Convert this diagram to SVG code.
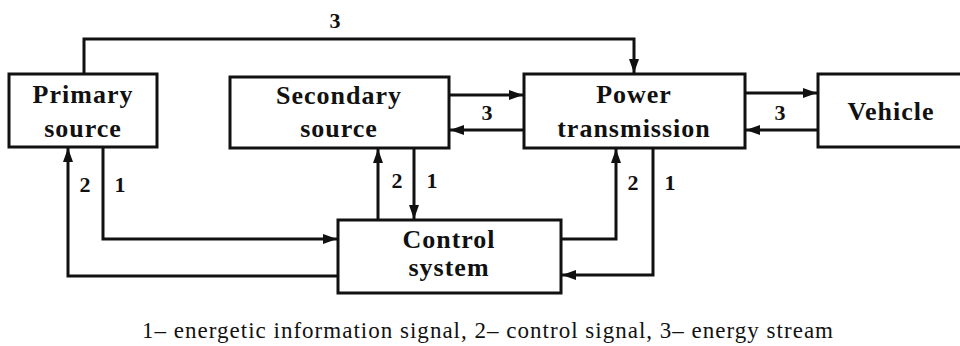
<svg xmlns="http://www.w3.org/2000/svg" width="960" height="346" viewBox="0 0 960 346">
<style>
.box{fill:#fff;stroke:#111;stroke-width:3}
.lbl{font-family:'Liberation Serif','DejaVu Serif',Times,serif;font-size:26px;font-weight:bold;fill:#111;text-anchor:middle;letter-spacing:1px}
.num{font-family:'Liberation Serif','DejaVu Serif',Times,serif;font-size:22px;font-weight:bold;fill:#111;text-anchor:middle}
.cap{font-family:'Liberation Serif','DejaVu Serif',Times,serif;font-size:23px;fill:#111}
.con{fill:none;stroke:#111;stroke-width:3}
</style>
<defs>
<marker id="ah" markerUnits="userSpaceOnUse" markerWidth="16" markerHeight="12" refX="14" refY="5" orient="auto">
<path d="M0,0 L14,5 L0,10 z" fill="#111"/>
</marker>
</defs>
<rect width="960" height="346" fill="#fff"/>
<g id="connectors">
<path class="con" d="M84,74 V39 H634 V73" marker-end="url(#ah)"/>
<path class="con" d="M449,95 H523" marker-end="url(#ah)"/>
<path class="con" d="M524,130 H450" marker-end="url(#ah)"/>
<path class="con" d="M745,93 H817" marker-end="url(#ah)"/>
<path class="con" d="M818,130 H746" marker-end="url(#ah)"/>
<path class="con" d="M338,276 H68 V148" marker-end="url(#ah)"/>
<path class="con" d="M103,147 V239 H337" marker-end="url(#ah)"/>
<path class="con" d="M378,220 V149" marker-end="url(#ah)"/>
<path class="con" d="M414,148 V219" marker-end="url(#ah)"/>
<path class="con" d="M561,239 H616 V149" marker-end="url(#ah)"/>
<path class="con" d="M653,148 V275 H562" marker-end="url(#ah)"/>
<text class="num" x="335" y="28">3</text>
<text class="num" x="487" y="120">3</text>
<text class="num" x="780" y="120">3</text>
<text class="num" x="85" y="192">2</text>
<text class="num" x="120" y="192">1</text>
<text class="num" x="397" y="188">2</text>
<text class="num" x="432" y="188">1</text>
<text class="num" x="633" y="190">2</text>
<text class="num" x="670" y="190">1</text>
</g>
<g id="primary">
<rect class="box" x="9" y="74" width="148" height="73"/>
<text class="lbl" x="83" y="103">Primary</text>
<text class="lbl" x="83" y="137">source</text>
</g>
<g id="secondary">
<rect class="box" x="230" y="77" width="219" height="71"/>
<text class="lbl" x="339" y="104">Secondary</text>
<text class="lbl" x="339" y="137">source</text>
</g>
<g id="power">
<rect class="box" x="524" y="74" width="221" height="74"/>
<text class="lbl" x="634" y="103">Power</text>
<text class="lbl" x="634" y="137">transmission</text>
</g>
<g id="vehicle">
<rect class="box" x="818" y="74" width="150" height="73"/>
<text class="lbl" x="891" y="120">Vehicle</text>
</g>
<g id="control">
<rect class="box" x="338" y="220" width="223" height="73"/>
<text class="lbl" x="449" y="248">Control</text>
<text class="lbl" x="449" y="276">system</text>
</g>
<text class="cap" x="142" y="338" textLength="691" lengthAdjust="spacing">1– energetic information signal, 2– control signal, 3– energy stream</text>
</svg>
